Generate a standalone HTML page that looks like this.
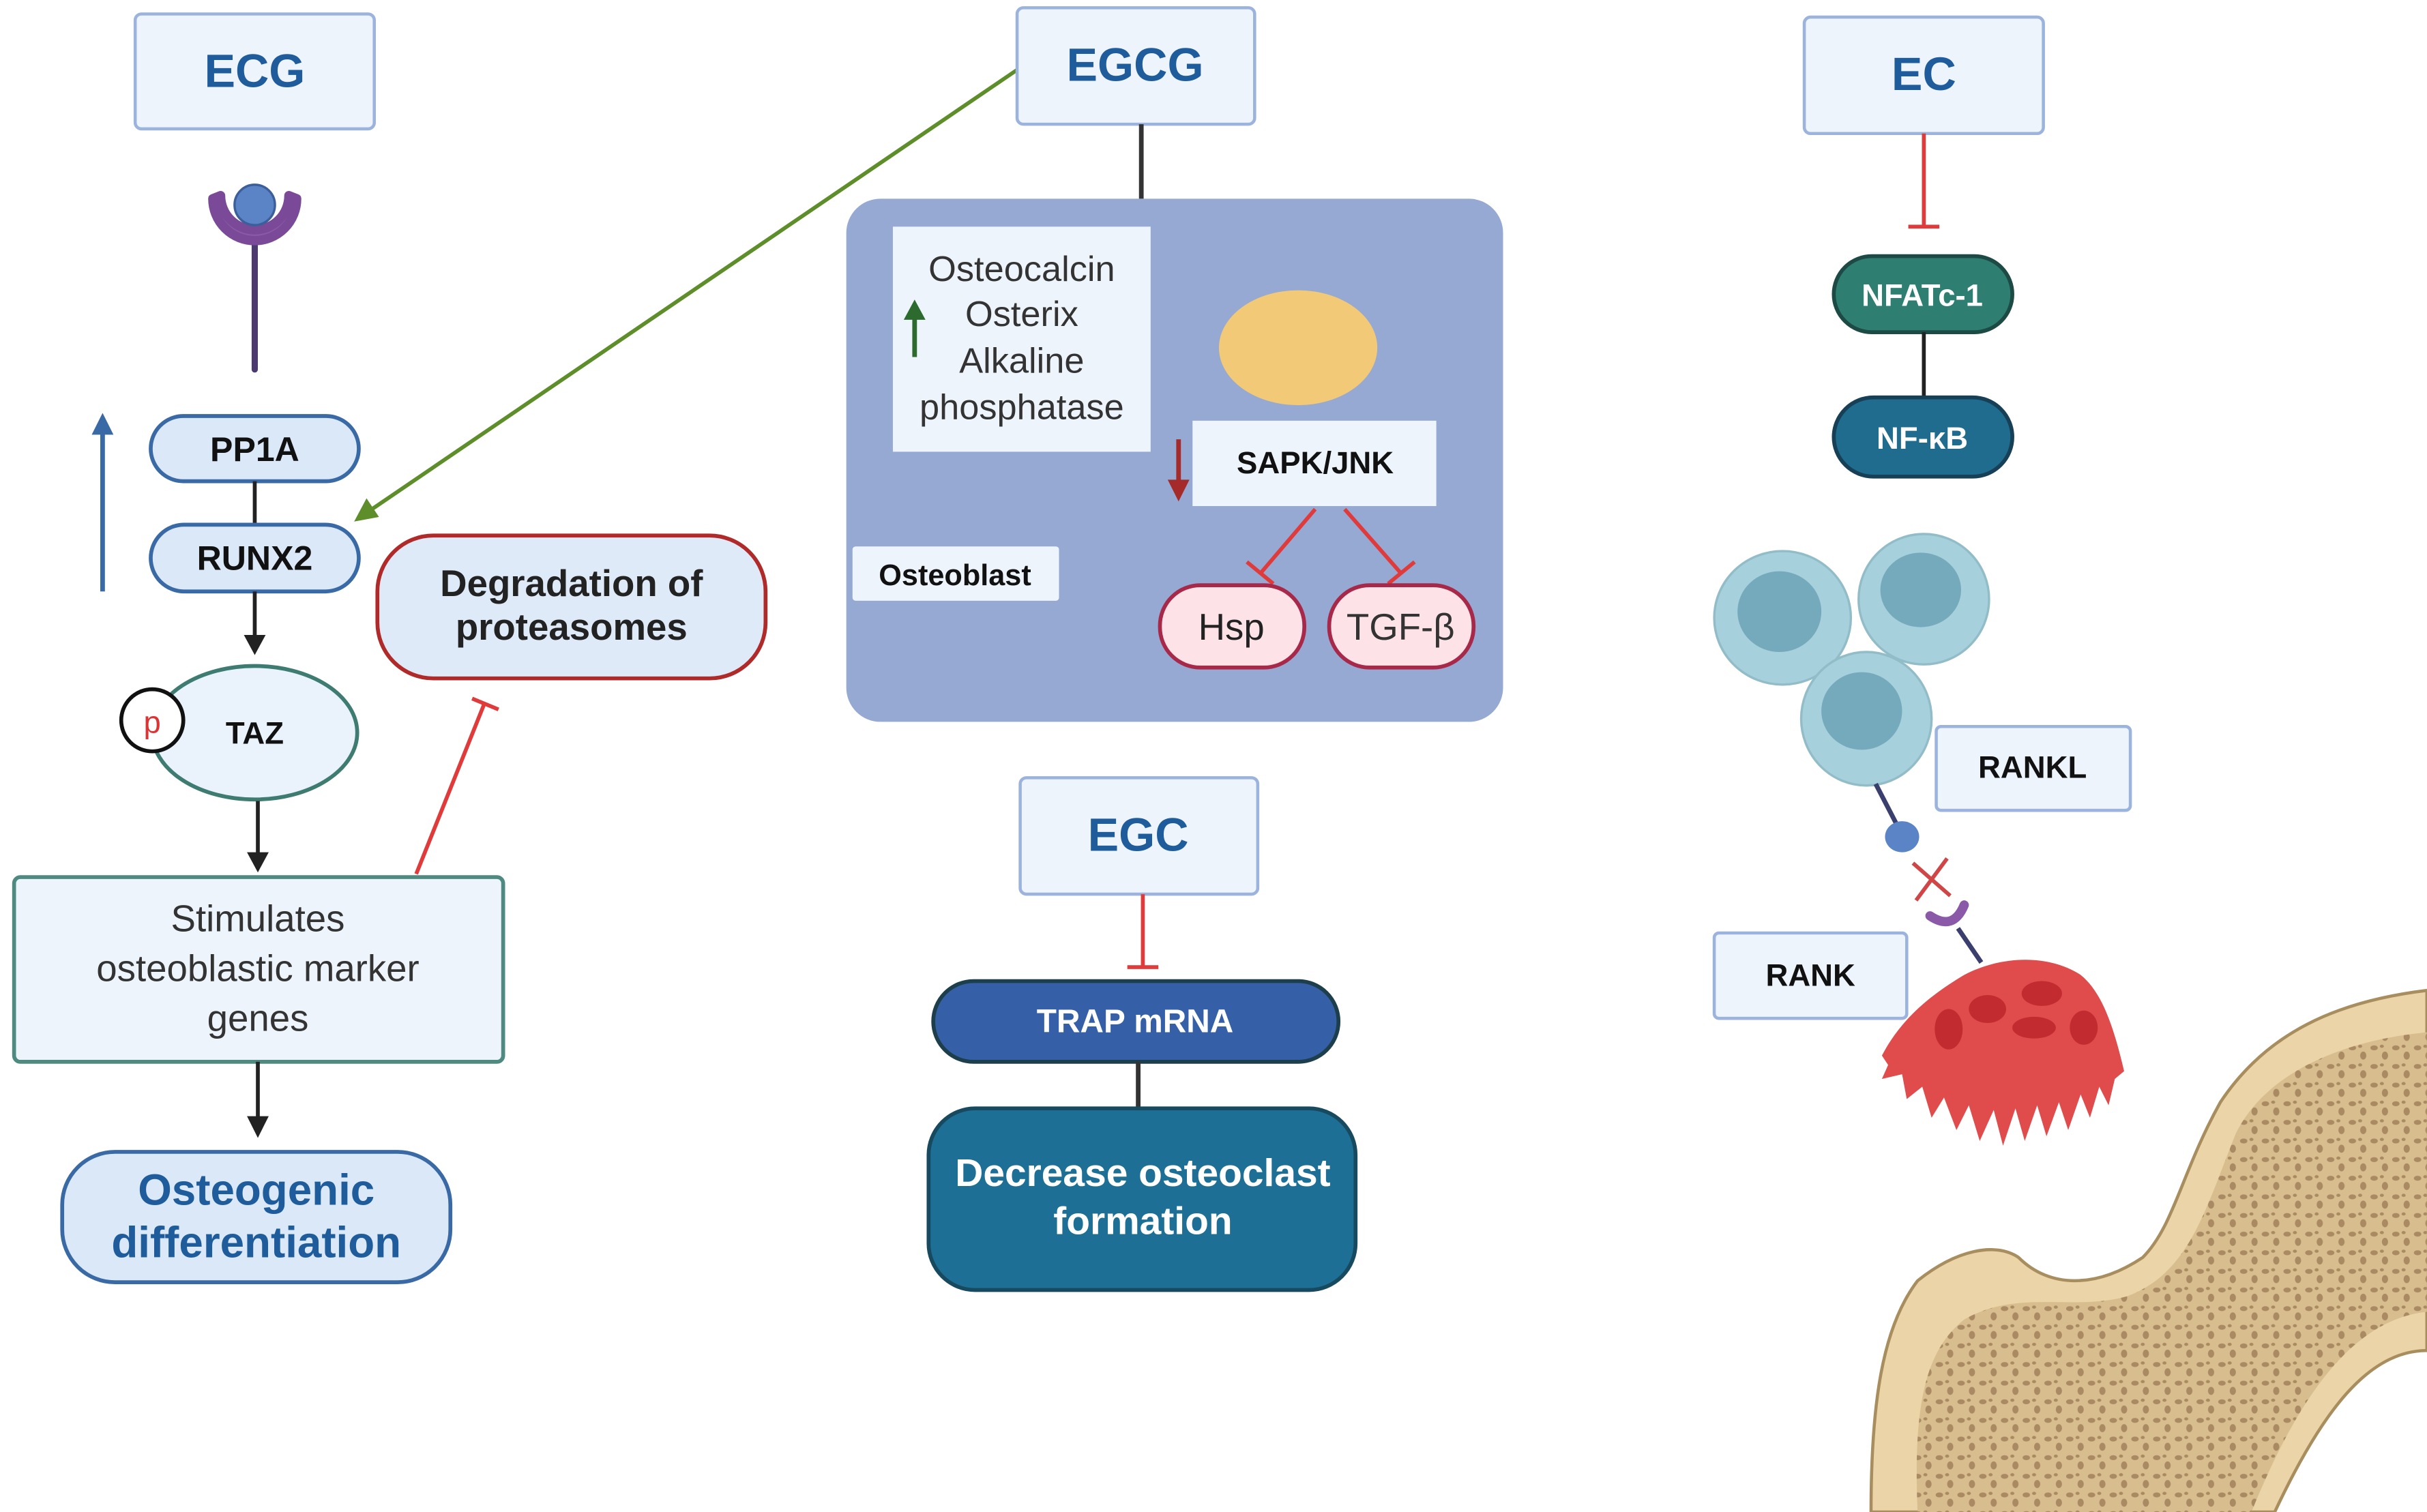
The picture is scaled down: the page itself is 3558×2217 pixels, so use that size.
<!DOCTYPE html>
<html><head><meta charset="utf-8"><style>html,body{margin:0;padding:0;background:#fff}svg{display:block}text{font-family:"Liberation Sans",sans-serif}</style></head>
<body>
<svg width="3558" height="2217" viewBox="0 0 1563 974" xmlns="http://www.w3.org/2000/svg">
<defs>
<marker id="ak" markerWidth="6" markerHeight="6" refX="3" refY="3" orient="auto" markerUnits="userSpaceOnUse" viewBox="0 0 6 6"><path d="M0,0 L6,3 L0,6z" fill="#222"/></marker>
<pattern id="dots" width="14" height="12" patternUnits="userSpaceOnUse"><ellipse cx="3" cy="3" rx="2.4" ry="1.6" fill="#a98a62"/><ellipse cx="10" cy="8" rx="2" ry="2.6" fill="#a98a62"/><ellipse cx="8" cy="2" rx="1.3" ry="1" fill="#a98a62"/></pattern>
</defs>
<rect width="1563" height="974" fill="#fff"/>

<!-- ECG column -->
<rect x="87" y="9" width="154" height="74" rx="4" fill="#eef4fc" stroke="#9bb3dd" stroke-width="2"/>
<text x="164" y="56" text-anchor="middle" font-size="30" font-weight="bold" fill="#1f5c9c">ECG</text>
<line x1="164" y1="152" x2="164" y2="238" stroke="#4a3a6e" stroke-width="4" stroke-linecap="round"/>
<path d="M137,128 A27,27 0 0 0 191,128 L186,126 A22,22 0 0 1 142,126 Z" fill="#8a5aa8" stroke="#7a4a98" stroke-width="6" stroke-linejoin="round"/>
<circle cx="164" cy="132" r="13" fill="#5b84c6" stroke="#3b5f9a" stroke-width="1.5"/>
<line x1="66" y1="381" x2="66" y2="278" stroke="#3a6aa5" stroke-width="3"/>
<path d="M59,280 L66,266 L73,280z" fill="#3a6aa5"/>
<rect x="97" y="268" width="134" height="42" rx="21" fill="#dbe8f7" stroke="#3a6aa5" stroke-width="2.5"/>
<text x="164" y="297" text-anchor="middle" font-size="22" font-weight="bold" fill="#111">PP1A</text>
<line x1="164" y1="310" x2="164" y2="338" stroke="#222" stroke-width="2.5"/>
<rect x="97" y="338" width="134" height="43" rx="21.5" fill="#dbe8f7" stroke="#3a6aa5" stroke-width="2.5"/>
<text x="164" y="367" text-anchor="middle" font-size="22" font-weight="bold" fill="#111">RUNX2</text>
<line x1="164" y1="381" x2="164" y2="412" stroke="#222" stroke-width="2.5"/>
<path d="M157,409 L164,422 L171,409z" fill="#222"/>
<ellipse cx="164" cy="472" rx="66" ry="43" fill="#eaf2fb" stroke="#3e7c72" stroke-width="2.5"/>
<text x="164" y="479" text-anchor="middle" font-size="20" font-weight="bold" fill="#111">TAZ</text>
<circle cx="98" cy="464" r="20" fill="#fff" stroke="#111" stroke-width="2.5"/>
<text x="98" y="472" text-anchor="middle" font-size="20" fill="#d33">p</text>
<line x1="166" y1="516" x2="166" y2="552" stroke="#222" stroke-width="2.5"/>
<path d="M159,549 L166,562 L173,549z" fill="#222"/>
<rect x="9" y="565" width="315" height="119" rx="4" fill="#eef4fb" stroke="#4e8a7f" stroke-width="2.5"/>
<text text-anchor="middle" font-size="24" fill="#333"><tspan x="166" y="600">Stimulates</tspan><tspan x="166" y="632">osteoblastic marker</tspan><tspan x="166" y="664">genes</tspan></text>
<line x1="166" y1="684" x2="166" y2="722" stroke="#222" stroke-width="2.5"/>
<path d="M159,719 L166,733 L173,719z" fill="#222"/>
<rect x="40" y="742" width="250" height="84" rx="34" fill="#dbe8f7" stroke="#3a6aa5" stroke-width="2.5"/>
<text text-anchor="middle" font-size="28" font-weight="bold" fill="#1f5c9c"><tspan x="165" y="776">Osteogenic</tspan><tspan x="165" y="810">differentiation</tspan></text>
<rect x="243" y="345" width="250" height="92" rx="36" fill="#dfeaf8" stroke="#b02a2a" stroke-width="2.5"/>
<text text-anchor="middle" font-size="24" font-weight="bold" fill="#222"><tspan x="368" y="384">Degradation of</tspan><tspan x="368" y="412">proteasomes</tspan></text>
<line x1="268" y1="563" x2="312" y2="453" stroke="#e03a3a" stroke-width="2.5"/>
<line x1="304" y1="450" x2="321" y2="457" stroke="#e03a3a" stroke-width="2.5"/>
<line x1="655" y1="45" x2="238" y2="329" stroke="#5d8e2a" stroke-width="2.5"/>
<path d="M228,336 L236,321 L244,333z" fill="#5d8e2a"/>

<!-- EGCG -->
<rect x="655" y="5" width="153" height="75" rx="4" fill="#eef4fc" stroke="#9bb3dd" stroke-width="2"/>
<text x="731" y="52" text-anchor="middle" font-size="30" font-weight="bold" fill="#1f5c9c">EGCG</text>
<line x1="735" y1="80" x2="735" y2="128" stroke="#333" stroke-width="3"/>
<rect x="545" y="128" width="423" height="337" rx="22" fill="#95a9d3"/>
<rect x="575" y="146" width="166" height="145" fill="#eef4fc"/>
<text text-anchor="middle" font-size="23" fill="#333"><tspan x="658" y="181">Osteocalcin</tspan><tspan x="658" y="210">Osterix</tspan><tspan x="658" y="240">Alkaline</tspan><tspan x="658" y="270">phosphatase</tspan></text>
<line x1="589" y1="230" x2="589" y2="204" stroke="#2d6a2d" stroke-width="3"/>
<path d="M582,206 L589,193 L596,206z" fill="#2d6a2d"/>
<ellipse cx="836" cy="224" rx="51" ry="37" fill="#f2c976"/>
<rect x="768" y="271" width="157" height="55" fill="#eef4fc"/>
<text x="847" y="305" text-anchor="middle" font-size="20" font-weight="bold" fill="#111">SAPK/JNK</text>
<line x1="759" y1="283" x2="759" y2="312" stroke="#a52a2a" stroke-width="3"/>
<path d="M752,309 L759,323 L766,309z" fill="#a52a2a"/>
<rect x="549" y="352" width="133" height="35" rx="2" fill="#eef4fc"/>
<text x="615" y="377" text-anchor="middle" font-size="19" font-weight="bold" fill="#111">Osteoblast</text>
<g stroke="#e03a3a" stroke-width="2.5"><line x1="847" y1="328" x2="812" y2="369"/><line x1="803" y1="362" x2="820" y2="376"/><line x1="866" y1="328" x2="902" y2="369"/><line x1="894" y1="376" x2="911" y2="362"/></g>
<rect x="747" y="377" width="93" height="53" rx="26" fill="#fde3e8" stroke="#a8284a" stroke-width="2.5"/>
<text x="793" y="412" text-anchor="middle" font-size="24" fill="#222">Hsp</text>
<rect x="856" y="377" width="93" height="53" rx="26" fill="#fde3e8" stroke="#a8284a" stroke-width="2.5"/>
<text x="902" y="412" text-anchor="middle" font-size="24" fill="#333">TGF-β</text>

<!-- EGC -->
<rect x="657" y="501" width="153" height="75" rx="4" fill="#eef4fc" stroke="#9bb3dd" stroke-width="2"/>
<text x="733" y="548" text-anchor="middle" font-size="30" font-weight="bold" fill="#1f5c9c">EGC</text>
<line x1="736" y1="576" x2="736" y2="622" stroke="#e03a3a" stroke-width="2.5"/>
<line x1="726" y1="623" x2="746" y2="623" stroke="#e03a3a" stroke-width="2.5"/>
<rect x="601" y="632" width="261" height="52" rx="26" fill="#3560a8" stroke="#1d3f4b" stroke-width="2.5"/>
<text x="731" y="665" text-anchor="middle" font-size="21" font-weight="bold" fill="#fff">TRAP mRNA</text>
<line x1="733" y1="684" x2="733" y2="714" stroke="#333" stroke-width="3"/>
<rect x="598" y="714" width="275" height="117" rx="30" fill="#1e6f96" stroke="#174a5e" stroke-width="2.5"/>
<text text-anchor="middle" font-size="25" font-weight="bold" fill="#fff"><tspan x="736" y="764">Decrease osteoclast</tspan><tspan x="736" y="795">formation</tspan></text>

<!-- EC -->
<rect x="1162" y="11" width="154" height="75" rx="4" fill="#eef4fc" stroke="#9bb3dd" stroke-width="2"/>
<text x="1239" y="58" text-anchor="middle" font-size="30" font-weight="bold" fill="#1f5c9c">EC</text>
<line x1="1239" y1="86" x2="1239" y2="146" stroke="#e03a3a" stroke-width="2.5"/>
<line x1="1229" y1="146" x2="1249" y2="146" stroke="#e03a3a" stroke-width="2.5"/>
<rect x="1181" y="165" width="115" height="49" rx="24.5" fill="#2e7f72" stroke="#1d4a44" stroke-width="2.5"/>
<text x="1238" y="197" text-anchor="middle" font-size="20" font-weight="bold" fill="#fff">NFATc-1</text>
<line x1="1239" y1="214" x2="1239" y2="256" stroke="#222" stroke-width="2.5"/>
<rect x="1181" y="256" width="115" height="51" rx="25.5" fill="#1f6c8e" stroke="#173f55" stroke-width="2.5"/>
<text x="1238" y="289" text-anchor="middle" font-size="20" font-weight="bold" fill="#fff">NF-κB</text>

<!-- cells -->
<g stroke="#92bcc8" stroke-width="1.5">
<ellipse cx="1148" cy="398" rx="44" ry="43" fill="#a6d0dc"/>
<ellipse cx="1239" cy="386" rx="42" ry="42" fill="#a6d0dc"/>
<ellipse cx="1202" cy="463" rx="42" ry="43" fill="#a6d0dc"/>
</g>
<ellipse cx="1146" cy="394" rx="27" ry="26" fill="#74aabb"/>
<ellipse cx="1237" cy="380" rx="26" ry="24" fill="#74aabb"/>
<ellipse cx="1199" cy="458" rx="26" ry="25" fill="#74aabb"/>
<rect x="1247" y="468" width="125" height="54" rx="3" fill="#eef4fc" stroke="#9bb3dd" stroke-width="2"/>
<text x="1309" y="501" text-anchor="middle" font-size="20" font-weight="bold" fill="#111">RANKL</text>
<rect x="1104" y="601" width="124" height="55" rx="3" fill="#eef4fc" stroke="#9bb3dd" stroke-width="2"/>
<text x="1166" y="635" text-anchor="middle" font-size="20" font-weight="bold" fill="#111">RANK</text>
<line x1="1208" y1="505" x2="1222" y2="532" stroke="#3a3f6e" stroke-width="3"/>
<ellipse cx="1225" cy="539" rx="11" ry="10" fill="#5b84c6"/>
<g stroke="#d04545" stroke-width="2.5"><line x1="1232" y1="556" x2="1256" y2="577"/><line x1="1254" y1="553" x2="1234" y2="580"/></g>
<path d="M1243,590 Q1258,600 1265,583" fill="none" stroke="#8a5aa8" stroke-width="6" stroke-linecap="round"/>
<line x1="1261" y1="598" x2="1276" y2="620" stroke="#3a3f6e" stroke-width="3"/>
<!-- osteoclast -->
<path d="M1212,680 C1225,655 1245,640 1265,628 C1290,615 1320,615 1340,628 C1355,640 1362,665 1368,690 L1362,695 L1358,712 L1352,700 L1346,720 L1340,705 L1332,728 L1326,710 L1318,732 L1312,712 L1304,735 L1298,714 L1290,738 L1284,715 L1275,735 L1268,712 L1260,728 L1252,707 L1244,720 L1238,700 L1228,708 L1225,692 L1212,695 L1216,686 Z" fill="#e04b4b"/>
<g fill="#c22b30"><ellipse cx="1255" cy="663" rx="9" ry="13"/><ellipse cx="1280" cy="650" rx="12" ry="9"/><ellipse cx="1315" cy="640" rx="13" ry="8"/><ellipse cx="1310" cy="662" rx="14" ry="7"/><ellipse cx="1342" cy="662" rx="9" ry="11"/></g>
<!-- bone -->
<path d="M1205,974 C1205,905 1212,855 1235,825 C1260,805 1285,800 1300,810 C1320,830 1350,830 1380,810 C1400,790 1405,755 1430,710 C1460,665 1505,645 1563,638 L1563,870 C1525,870 1495,910 1465,974 Z" fill="#ebd4a8" stroke="#a88d5e" stroke-width="2"/>
<path d="M1235,974 C1232,905 1240,870 1265,850 C1300,830 1335,845 1370,835 C1410,820 1420,780 1440,730 C1460,690 1510,670 1563,665 L1563,845 C1515,850 1480,900 1450,974 Z" fill="#d8bd8e"/>
<path d="M1235,974 C1232,905 1240,870 1265,850 C1300,830 1335,845 1370,835 C1410,820 1420,780 1440,730 C1460,690 1510,670 1563,665 L1563,845 C1515,850 1480,900 1450,974 Z" fill="url(#dots)"/>
</svg>
</body></html>
